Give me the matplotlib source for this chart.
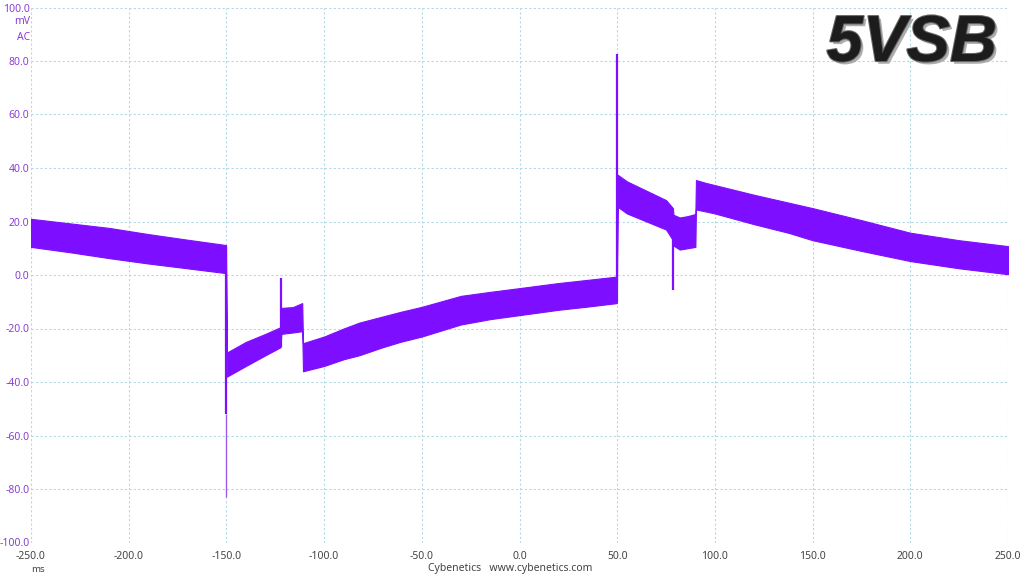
import matplotlib
matplotlib.use("Agg")
import matplotlib.pyplot as plt
import matplotlib.patheffects as pe
import numpy as np

# envelope of the noisy 5VSB ripple trace (ms, mV)
t_ms = [-250, -230, -210, -190, -170, -150.2,
        -149.8, -140, -130, -122.3,
        -121.9, -116, -111.2,
        -110.8, -100, -90, -82, -70, -61, -50, -30, -15, 0, 20, 35, 49.8,
        50.2, 55, 65, 75, 78.5,
        78.8, 82, 86, 90.0,
        90.3, 95, 100, 120, 138, 150, 175, 200, 225, 250]
upper_mv = [21, 19.3, 17.6, 15.3, 13.2, 11.2,
            -29, -25, -22, -19.5,
            -12.3, -12, -10.5,
            -25.5, -23, -20, -17.8, -15.5, -13.8, -11.9, -7.8, -6.3, -4.9, -3, -1.8, -0.6,
            37.5, 35, 31.5, 28, 25,
            22.5, 21.5, 22, 22.8,
            35.5, 34.5, 33.6, 30, 27, 25, 20.5, 15.8, 13, 10.8]
lower_mv = [10.5, 8.5, 6.3, 4.3, 2.5, 0.7,
            -38, -34, -30, -27,
            -22, -21.5, -21,
            -36, -34, -31.5, -30, -27, -25, -23, -18.5, -16.5, -15, -13, -11.8, -10.5,
            25.5, 23, 20, 17, 13,
            11, 9.5, 10, 10.5,
            24.5, 23.8, 23, 19, 15.7, 13, 9, 5.2, 2.5, 0.3]

# narrow transient spikes
spike_t = [-150.0, -122.1, 50.0, 78.7]
spike_lo = [-52, -27, -10, -5.6]
spike_hi = [11, -1, 82.5, 22]
# faint tail of the -150 ms undershoot
tail_t = [-150.0]
tail_lo = [-83]
tail_hi = [-52]

x_ticks = np.arange(-250, 251, 50)
y_ticks = np.arange(-100, 101, 20)

trace_col = "#7d0eff"
label_col = "#8a3fd1"
grid_col = "#b3d9e3"

plt.rcParams['font.family'] = ['Noto Sans', 'DejaVu Sans']

fig = plt.figure(figsize=(10.24, 5.76), dpi=100)
ax = fig.add_axes([31 / 1024, 1 - 542.5 / 576, 977 / 1024, 535 / 576])

ax.fill_between(t_ms, lower_mv, upper_mv, color=trace_col, linewidth=0.8,
                edgecolor=trace_col, zorder=3)
ax.vlines(spike_t, spike_lo, spike_hi, color=trace_col, linewidth=1.6, zorder=4)
ax.vlines(tail_t, tail_lo, tail_hi, color="#9b5cf0", linewidth=1.0, zorder=4)

ax.set_xlim(-250, 250)
ax.set_ylim(-100, 100)
ax.set_xticks(x_ticks)
ax.set_yticks(y_ticks)
ax.set_xticklabels([f"{v:.1f}" for v in x_ticks], color="#444444", fontsize=7.5)
ax.set_yticklabels([f"{v:.1f}" for v in y_ticks], color=label_col, fontsize=7.5)
ax.tick_params(length=0, pad=6)
ax.tick_params(axis='y', pad=1)
ax.grid(True, color=grid_col, linestyle=(0, (2, 2)), linewidth=0.8, zorder=0)
for s in ax.spines.values():
    s.set_visible(False)

# unit labels under the top y tick
fig.text(30 / 1024, 1 - 21 / 576, "mV", color=label_col, fontsize=7.5,
         ha='right', va='center')
fig.text(30 / 1024, 1 - 37 / 576, "AC", color=label_col, fontsize=7.5,
         ha='right', va='center')
fig.text(38 / 1024, 1 - 569 / 576, "ms", color="#444444", fontsize=7,
         ha='center', va='center')
fig.text(510 / 1024, 1 - 569 / 576, "Cybenetics   www.cybenetics.com",
         color="#444444", fontsize=7.5, ha='center', va='center')

# big rail name in the corner
fig.text(997 / 1024, 1 - 61 / 576, "5VSB", fontsize=47, fontstyle='italic',
         fontweight='bold', family='Liberation Sans', color="#1c1c1c",
         ha='right', va='baseline', zorder=10,
         path_effects=[pe.SimplePatchShadow(offset=(2, -2), shadow_rgbFace="#999999", alpha=0.8),
                       pe.withStroke(linewidth=1.5, foreground="#666666")])

fig.savefig("out.png", dpi=100)
